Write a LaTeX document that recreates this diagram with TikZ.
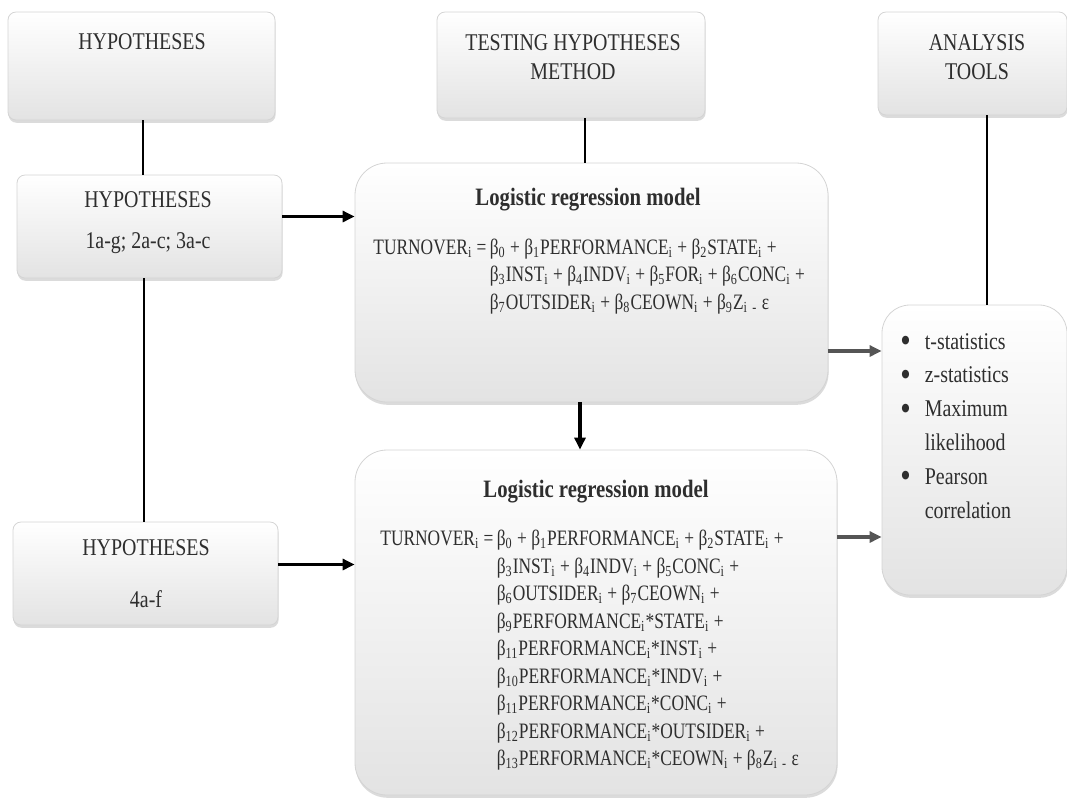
\documentclass[tikz,border=0pt]{standalone}
\usepackage{fontspec}
\setmainfont{Liberation Serif}[FakeStretch=0.83]
\newfontfamily\eqfont{Liberation Serif}[FakeStretch=0.79]
\usetikzlibrary{arrows.meta,shadows}
\definecolor{ink}{HTML}{2E2E2E}
\definecolor{edgegrey}{HTML}{D4D4D4}
\definecolor{arrowgrey}{HTML}{555555}
\newcommand{\sbs}[1]{\textsubscript{#1}}
\newcommand{\blt}{\raisebox{-1.7pt}{\scalebox{1.5}{•}}}
\begin{document}
\begin{tikzpicture}[x=0.5pt,y=-0.5pt,
  panel/.style={draw=edgegrey, line width=0.4pt, top color=white, bottom color=gray!22,
    inner sep=0pt,
    drop shadow={shadow xshift=0.3pt, shadow yshift=-1.4pt, opacity=0.35, fill=gray!80}},
  smallbox/.style={panel, rounded corners=4pt},
  bigbox/.style={panel, rounded corners=16pt},
  head/.style={font=\fontsize{12}{14.5}\selectfont, text=ink, align=center, inner sep=0pt},
  title/.style={font=\fontsize{12.5}{15}\selectfont\bfseries, text=ink, inner sep=0pt},
  eq/.style={font=\eqfont\fontsize{11}{13.75}\selectfont, text=ink, inner sep=0pt, anchor=base west},
  blist/.style={font=\fontsize{12}{16.9}\selectfont, text=ink, inner sep=0pt, anchor=base west},
  conn/.style={line width=1pt, black},
  arr/.style={line width=1.6pt, -{Triangle[length=6pt,width=5.5pt]}},
  blackarr/.style={arr, black},
  greyarr/.style={arr, arrowgrey},
]
\useasboundingbox (0,0) rectangle (1067,800);

% ---- boxes ----
\node[smallbox, minimum width=133.5pt, minimum height=54pt]   (A) at (141.5,66) {};
\node[smallbox, minimum width=134pt,   minimum height=53pt]   (T) at (571,65) {};
\node[smallbox, minimum width=94.5pt,  minimum height=51.5pt] (G) at (972.5,63.5) {};
\node[smallbox, minimum width=132.5pt, minimum height=51.5pt] (B) at (149.5,226.5) {};
\node[smallbox, minimum width=132.5pt, minimum height=51.5pt] (D) at (145.5,573.5) {};
\node[bigbox,   minimum width=236.5pt, minimum height=119.5pt] (E) at (591.5,282.5) {};
\node[bigbox,   minimum width=241pt,   minimum height=172.5pt] (F) at (596,622.5) {};
\node[panel, rounded corners=14pt, minimum width=92.5pt, minimum height=145pt] (H) at (974.5,450) {};

% ---- box texts ----
\node[head] (A-t)  at (142,42)  {HYPOTHESES};
\node[head] (T-t)  at (573,57.5) {TESTING HYPOTHESES\\METHOD};
\node[head] (G-t)  at (977,57.5) {ANALYSIS\\TOOLS};
\node[head] (B-t1) at (148,200) {HYPOTHESES};
\node[head] (B-t2) at (148,243) {1a-g; 2a-c; 3a-c};
\node[head] (D-t1) at (146,548) {HYPOTHESES};
\node[head] (D-t2) at (146,599) {4a-f};

\node[title] (E-title) at (588,200) {Logistic regression model};
\node[eq] (E-eq) at (373,254) {\begin{tabular}[t]{@{}l@{\hspace{0.15em}}l@{}}
TURNOVER\sbs{i} = & β\sbs{0} + β\sbs{1}PERFORMANCE\sbs{i} + β\sbs{2}STATE\sbs{i} +\\
 & β\sbs{3}INST\sbs{i} + β\sbs{4}INDV\sbs{i} + β\sbs{5}FOR\sbs{i} + β\sbs{6}CONC\sbs{i} +\\
 & β\sbs{7}OUTSIDER\sbs{i} + β\sbs{8}CEOWN\sbs{i} + β\sbs{9}Z\sbs{i} \sbs{-} ε
\end{tabular}};

\node[title] (F-title) at (596,492) {Logistic regression model};
\node[eq] (F-eq) at (380,545.5) {\begin{tabular}[t]{@{}l@{\hspace{0.15em}}l@{}}
TURNOVER\sbs{i} = & β\sbs{0} + β\sbs{1}PERFORMANCE\sbs{i} + β\sbs{2}STATE\sbs{i} +\\
 & β\sbs{3}INST\sbs{i} + β\sbs{4}INDV\sbs{i} + β\sbs{5}CONC\sbs{i} +\\
 & β\sbs{6}OUTSIDER\sbs{i} + β\sbs{7}CEOWN\sbs{i} +\\
 & β\sbs{9}PERFORMANCE\sbs{i}*STATE\sbs{i} +\\
 & β\sbs{11}PERFORMANCE\sbs{i}*INST\sbs{i} +\\
 & β\sbs{10}PERFORMANCE\sbs{i}*INDV\sbs{i} +\\
 & β\sbs{11}PERFORMANCE\sbs{i}*CONC\sbs{i} +\\
 & β\sbs{12}PERFORMANCE\sbs{i}*OUTSIDER\sbs{i} +\\
 & β\sbs{13}PERFORMANCE\sbs{i}*CEOWN\sbs{i} + β\sbs{8}Z\sbs{i} \sbs{-} ε
\end{tabular}};

\node[blist] (H-list) at (900,349) {\begin{tabular}[t]{@{}l@{\hspace{7pt}}l@{}}
\blt & t-statistics\\
\blt & z-statistics\\
\blt & Maximum\\
  & likelihood\\
\blt & Pearson\\
  & correlation
\end{tabular}};

% ---- connectors ----
\draw[conn] ([xshift=0.75pt]A.south) -- ([xshift=0.75pt]A.south |- B.north);
\draw[conn] ([xshift=1pt]A.south |- B.south) -- ([xshift=1pt]A.south |- D.north);
\draw[conn] ([xshift=7pt]T.south) -- ([xshift=7pt]T.south |- E.north);
\draw[conn] ([xshift=7.25pt]G.south) -- ([xshift=7.25pt]G.south |- H.north);

\draw[blackarr] ([yshift=5pt]B.east) -- ([yshift=5pt]B.east -| E.west);
\draw[blackarr] ([yshift=4.5pt]D.east) -- ([yshift=4.5pt]D.east -| F.west);
\draw[blackarr] ([xshift=-5.75pt]E.south) -- ([xshift=-5.75pt]E.south |- F.north);
\draw[greyarr] ([yshift=-34.25pt]E.east) -- ([yshift=-34.25pt]E.east -| H.west);
\draw[greyarr] ([yshift=42.75pt]F.east) -- ([yshift=42.75pt]F.east -| H.west);
\end{tikzpicture}
\end{document}
